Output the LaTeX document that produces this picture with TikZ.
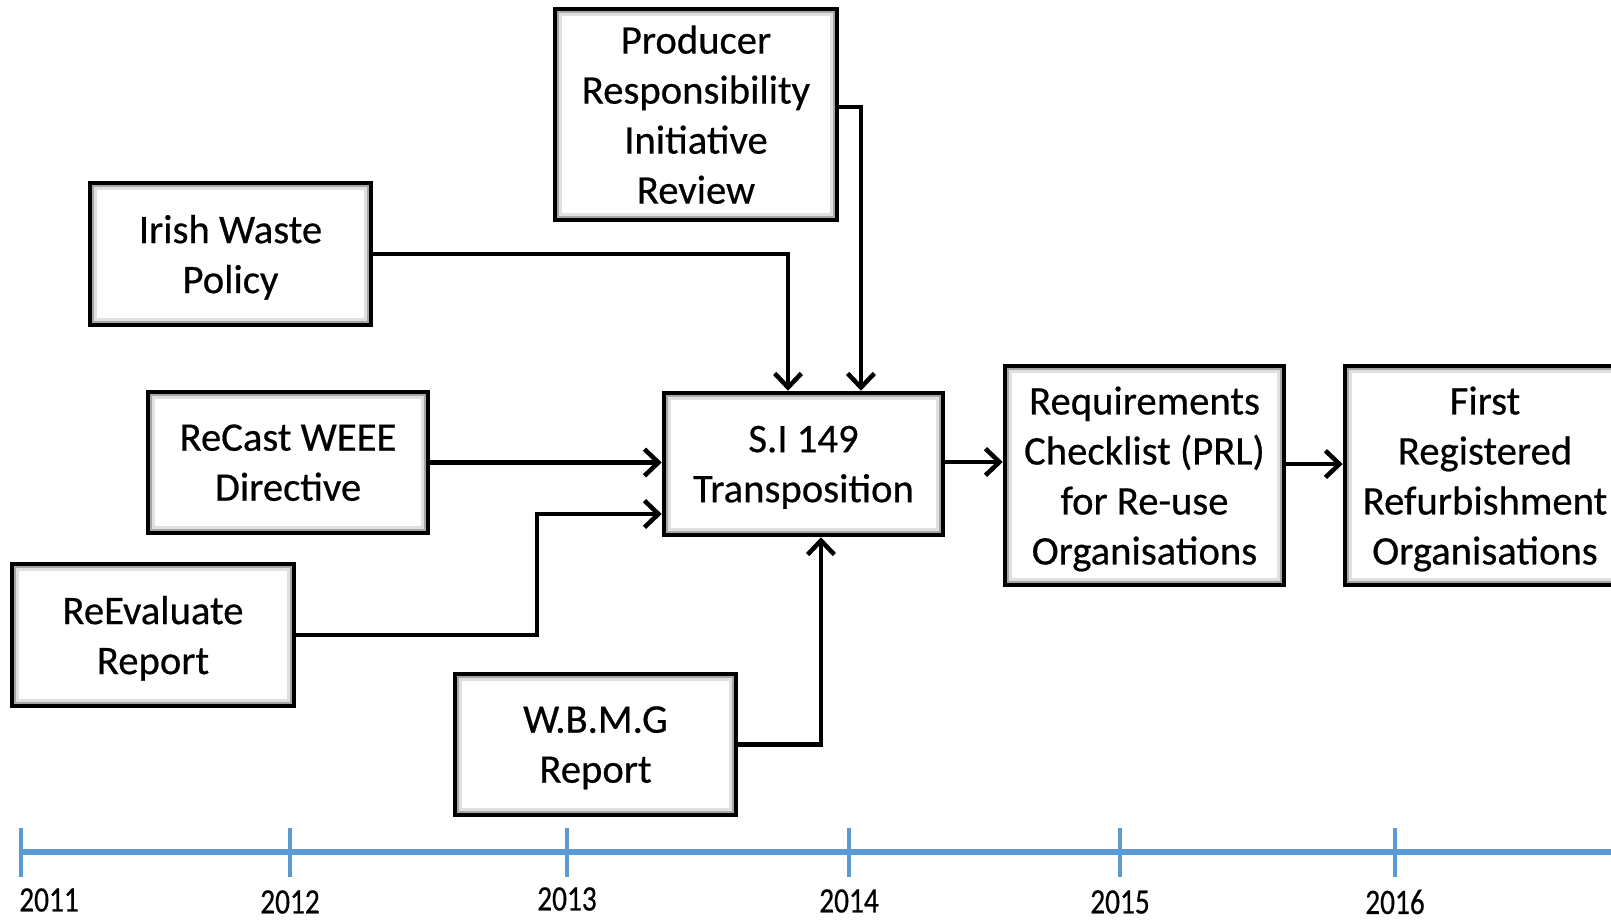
\documentclass[tikz,border=0pt]{standalone}
\usepackage{fontspec}
\setmainfont{Carlito}[FakeBold=0.5]
\usetikzlibrary{arrows.meta}
\definecolor{tl}{RGB}{91,155,213}
\begin{document}
\begin{tikzpicture}[x=0.75pt,y=-0.75pt,
  box/.style={draw=black, line width=3.4pt, fill=white, align=center,
    font=\fontsize{30.5}{37.5}\selectfont, inner sep=0pt, text depth=0pt},
  conn/.style={line width=3.4pt, -{Straight Barb[length=10.5pt,width=20pt]}, line join=miter},
  inshade/.style={line width=1.6pt},
  tick/.style={draw=tl, line width=3pt},
  year/.style={font=\fontsize{22}{28}\selectfont, inner sep=0pt}]
\useasboundingbox (0,0) rectangle (1611,921);
\fill[white] (0,0) rectangle (1611,921);

% boxes
\node[box, minimum width=211.5pt, minimum height=158.25pt] (pri) at (696,114.5)
  {Producer\\Responsibility\\Initiative\\Review};
\node[box, minimum width=210.75pt, minimum height=106.5pt] (iwp) at (230.5,254)
  {Irish Waste\\Policy};
\node[box, minimum width=210pt, minimum height=105.75pt] (rcw) at (288,462.5)
  {ReCast WEEE\\Directive};
\node[box, minimum width=211.5pt, minimum height=106.5pt] (rev) at (153,635)
  {ReEvaluate\\Report};
\node[box, minimum width=210.75pt, minimum height=105.75pt] (wbmg) at (595.5,744.5)
  {W.B.M.G\\Report};
\node[box, minimum width=209.25pt, minimum height=106.5pt] (si) at (803.5,464)
  {S.I 149\\Transposition};
\node[box, minimum width=209.25pt, minimum height=164.25pt] (req) at (1144.5,475.5)
  {Requirements\\Checklist (PRL)\\for Re-use\\Organisations};
\node[box, minimum width=210pt, minimum height=164.25pt] (first) at (1485,475.5)
  {First\\Registered\\Refurbishment\\Organisations};

% inner shading of the boxes
\foreach \n in {pri,iwp,rcw,rev,wbmg,si,req,first}{
  \draw[inshade, black!35] ([shift={(4.2pt,-4.2pt)}]\n.north west) rectangle ([shift={(-4.2pt,4.2pt)}]\n.south east);
  \draw[inshade, black!12] ([shift={(5.8pt,-5.8pt)}]\n.north west) rectangle ([shift={(-5.8pt,5.8pt)}]\n.south east);
}

% connectors
\coordinate (revbend) at (537,635);
\draw[conn] (iwp.east) -| ([xshift=-11.6pt]si.north);
\draw[conn] ([yshift=5.6pt]pri.east) -| ([xshift=43.1pt]si.north);
\draw[conn] (rcw.east) -- (rcw.east -| si.west);
\draw[conn] (rev.east) -- (revbend) |- ([yshift=-37.5pt]si.west);
\draw[conn] (wbmg.east) -| ([xshift=13.1pt]si.south);
\draw[conn] ([yshift=1.5pt]si.east) -- ([yshift=1.5pt]si.east -| req.west);
\draw[conn] ([yshift=8.6pt]req.east) -- ([yshift=8.6pt]first.west);

% timeline
\coordinate (tstart) at (21,852);
\coordinate (tend) at (1611,852);
\draw[draw=tl, line width=3.8pt] (tstart) -- (tend);
\foreach \x/\lx/\yr/\ly in {21/49/2011/900, 290/290/2012/902, 567/567/2013/899, 849/849/2014/901, 1120/1120/2015/902, 1395/1395/2016/902}{
  \draw[tick] (\x,828) -- (\x,877);
  \node[year] (y\yr) at (\lx,\ly) {\scalebox{1}[1.22]{\yr}};
}
\end{tikzpicture}
\end{document}
